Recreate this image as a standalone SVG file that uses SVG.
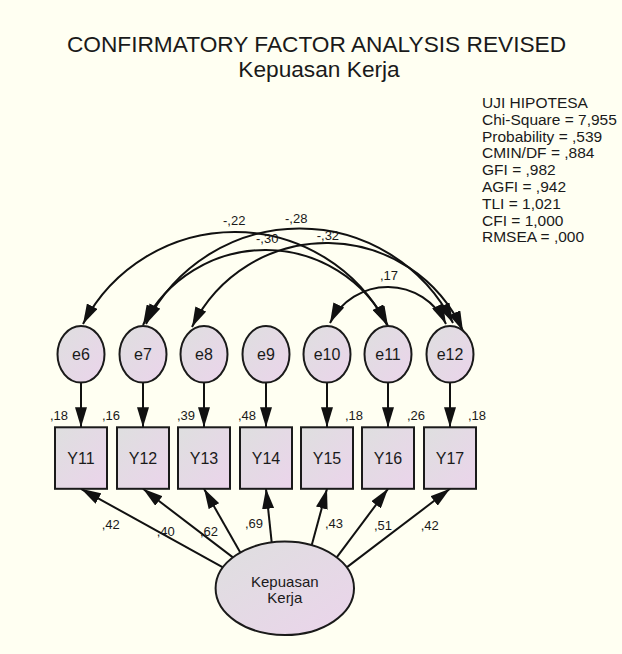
<svg xmlns="http://www.w3.org/2000/svg" width="622" height="654" viewBox="0 0 622 654">
<style>
text{font-family:"Liberation Sans",Arial,sans-serif;fill:#1a1a1a}
.title{font-size:22.7px}
.fit{font-size:15.5px}
.lbl{font-size:16px;text-anchor:middle}
.num{font-size:13px}
.node{fill:url(#g);stroke:#1a1a1a;stroke-width:2}
.edge{fill:none;stroke:#111;stroke-width:2}
</style>
<defs>
<linearGradient id="g" x1="0" y1="0" x2="1" y2="1">
<stop offset="0" stop-color="#dedfdf"/>
<stop offset="1" stop-color="#ebd4eb"/>
</linearGradient>
<marker id="ah" markerUnits="userSpaceOnUse" markerWidth="20" markerHeight="12" viewBox="0 0 20 12" refX="20" refY="6" orient="auto">
<path d="M0,0 L20,6 L0,12 z" fill="#111"/>
</marker>
<marker id="ahs" markerUnits="userSpaceOnUse" markerWidth="20" markerHeight="12" viewBox="0 0 20 12" refX="20" refY="6" orient="auto-start-reverse">
<path d="M0,0 L20,6 L0,12 z" fill="#111"/>
</marker>
</defs>
<rect x="0" y="0" width="622" height="654" fill="#fffff2"/>

<g id="titles">
<text class="title" x="316.5" y="51.7" text-anchor="middle">CONFIRMATORY FACTOR ANALYSIS REVISED</text>
<text class="title" x="319" y="76.7" text-anchor="middle">Kepuasan Kerja</text>
</g>

<g id="fit-indices" class="fit">
<text class="fit" x="482" y="108">UJI HIPOTESA</text>
<text class="fit" x="482" y="124.8">Chi-Square = 7,955</text>
<text class="fit" x="482" y="141.6">Probability = ,539</text>
<text class="fit" x="482" y="158.4">CMIN/DF = ,884</text>
<text class="fit" x="482" y="175.2">GFI = ,982</text>
<text class="fit" x="482" y="192">AGFI = ,942</text>
<text class="fit" x="482" y="208.8">TLI = 1,021</text>
<text class="fit" x="482" y="225.6">CFI = 1,000</text>
<text class="fit" x="482" y="242.4">RMSEA = ,000</text>
</g>

<g id="connectors">
<!-- covariances -->
<path class="edge" d="M83,324 A171.1,171.1 0 0 1 387,325" marker-start="url(#ahs)" marker-end="url(#ah)"/>
<path class="edge" d="M146,324 A171.5,171.5 0 0 1 453,323" marker-start="url(#ahs)" marker-end="url(#ah)"/>
<path class="edge" d="M143,325 A137.1,137.1 0 0 1 388,326" marker-start="url(#ahs)" marker-end="url(#ah)"/>
<path class="edge" d="M192,327 A149.7,149.7 0 0 1 463,331" marker-start="url(#ahs)" marker-end="url(#ah)"/>
<path class="edge" d="M330,323 A64.3,64.3 0 0 1 446,324" marker-start="url(#ahs)" marker-end="url(#ah)"/>
<!-- error to indicator -->
<line class="edge" x1="81" y1="382.6" x2="81" y2="427.3" marker-end="url(#ah)"/>
<line class="edge" x1="143" y1="382.6" x2="143" y2="427.3" marker-end="url(#ah)"/>
<line class="edge" x1="204" y1="382.6" x2="204" y2="427.3" marker-end="url(#ah)"/>
<line class="edge" x1="266" y1="382.6" x2="266" y2="427.3" marker-end="url(#ah)"/>
<line class="edge" x1="327" y1="382.6" x2="327" y2="427.3" marker-end="url(#ah)"/>
<line class="edge" x1="388" y1="382.6" x2="388" y2="427.3" marker-end="url(#ah)"/>
<line class="edge" x1="450" y1="382.6" x2="450" y2="427.3" marker-end="url(#ah)"/>
<!-- loadings -->
<line class="edge" x1="222.9" y1="567.4" x2="81" y2="488.8" marker-end="url(#ah)"/>
<line class="edge" x1="232.9" y1="557.4" x2="143" y2="488.8" marker-end="url(#ah)"/>
<line class="edge" x1="240.3" y1="552.5" x2="204" y2="488.8" marker-end="url(#ah)"/>
<line class="edge" x1="271.7" y1="542.4" x2="266" y2="488.8" marker-end="url(#ah)"/>
<line class="edge" x1="311.7" y1="545.3" x2="327" y2="488.8" marker-end="url(#ah)"/>
<line class="edge" x1="336.7" y1="557.4" x2="388" y2="488.8" marker-end="url(#ah)"/>
<line class="edge" x1="346.7" y1="567.4" x2="450" y2="488.8" marker-end="url(#ah)"/>
<!-- labels -->
<g class="num">
<text class="num" x="223" y="225">-,22</text>
<text class="num" x="285" y="223.3">-,28</text>
<text class="num" x="256" y="242.7">-,30</text>
<text class="num" x="316.7" y="240">-,32</text>
<text class="num" x="380" y="280">,17</text>
<text class="num" x="101.7" y="529">,42</text>
<text class="num" x="156.7" y="536">,40</text>
<text class="num" x="200" y="536">,62</text>
<text class="num" x="245" y="528.3">,69</text>
<text class="num" x="325" y="528">,43</text>
<text class="num" x="374" y="530">,51</text>
<text class="num" x="420.7" y="530">,42</text>
</g>
</g>

<g id="e6"><ellipse class="node" cx="81" cy="354.3" rx="23.5" ry="28.3"/><text class="lbl" x="81" y="360">e6</text></g>
<g id="e7"><ellipse class="node" cx="143" cy="354.3" rx="23.5" ry="28.3"/><text class="lbl" x="143" y="360">e7</text></g>
<g id="e8"><ellipse class="node" cx="204" cy="354.3" rx="23.5" ry="28.3"/><text class="lbl" x="204" y="360">e8</text></g>
<g id="e9"><ellipse class="node" cx="266" cy="354.3" rx="23.5" ry="28.3"/><text class="lbl" x="266" y="360">e9</text></g>
<g id="e10"><ellipse class="node" cx="327" cy="354.3" rx="23.5" ry="28.3"/><text class="lbl" x="327" y="360">e10</text></g>
<g id="e11"><ellipse class="node" cx="388" cy="354.3" rx="23.5" ry="28.3"/><text class="lbl" x="388" y="360">e11</text></g>
<g id="e12"><ellipse class="node" cx="450" cy="354.3" rx="23.5" ry="28.3"/><text class="lbl" x="450" y="360">e12</text></g>

<g id="Y11"><rect class="node" x="55" y="427.3" width="52" height="61.5"/><text class="lbl" x="81" y="463.7">Y11</text><text class="num" x="50" y="419.5">,18</text></g>
<g id="Y12"><rect class="node" x="117" y="427.3" width="52" height="61.5"/><text class="lbl" x="143" y="463.7">Y12</text><text class="num" x="102" y="419.5">,16</text></g>
<g id="Y13"><rect class="node" x="178" y="427.3" width="52" height="61.5"/><text class="lbl" x="204" y="463.7">Y13</text><text class="num" x="177" y="419.5">,39</text></g>
<g id="Y14"><rect class="node" x="240" y="427.3" width="52" height="61.5"/><text class="lbl" x="266" y="463.7">Y14</text><text class="num" x="238" y="419.5">,48</text></g>
<g id="Y15"><rect class="node" x="301" y="427.3" width="52" height="61.5"/><text class="lbl" x="327" y="463.7">Y15</text><text class="num" x="345" y="419.5">,18</text></g>
<g id="Y16"><rect class="node" x="362" y="427.3" width="52" height="61.5"/><text class="lbl" x="388" y="463.7">Y16</text><text class="num" x="407" y="419.5">,26</text></g>
<g id="Y17"><rect class="node" x="424" y="427.3" width="52" height="61.5"/><text class="lbl" x="450" y="463.7">Y17</text><text class="num" x="468" y="419.5">,18</text></g>

<g id="KepuasanKerja">
<ellipse class="node" cx="284.8" cy="588.3" rx="69.2" ry="46.7"/>
<text x="284.8" y="586.7" text-anchor="middle" font-size="15px">Kepuasan</text>
<text x="284.8" y="603.3" text-anchor="middle" font-size="15px">Kerja</text>
</g>
</svg>
